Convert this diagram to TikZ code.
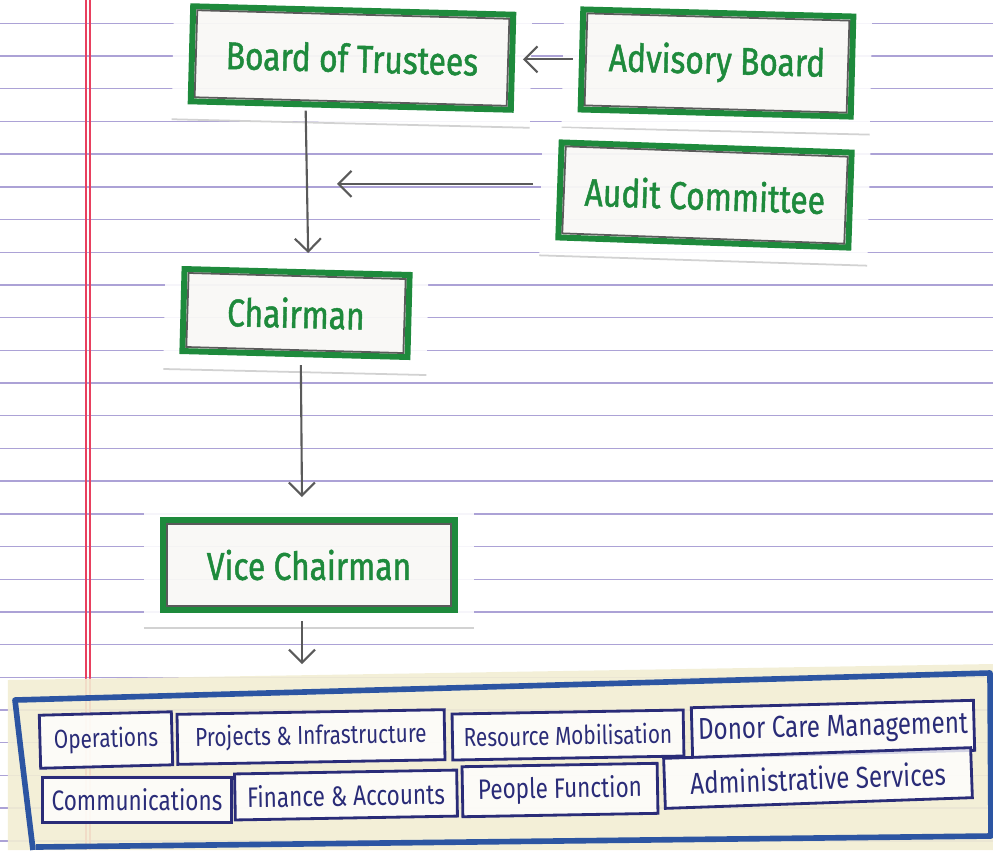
\documentclass[tikz,border=0pt]{standalone}
\usepackage{fontspec}
\newfontfamily\markerfont[FakeStretch=0.82, FakeBold=1.2]{Fira Sans}
\newfontfamily\penfont[FakeStretch=0.8]{Fira Sans}
\usetikzlibrary{arrows.meta, backgrounds}

\definecolor{rule}{HTML}{ACA2D6}
\definecolor{margin}{HTML}{E8405F}
\definecolor{marker}{HTML}{1E8A3C}
\definecolor{pencil}{HTML}{5A5A5A}
\definecolor{ink}{HTML}{2A2C78}
\definecolor{blueink}{HTML}{2C55A2}
\definecolor{cream}{HTML}{F2EED3}
\definecolor{card}{HTML}{F4F2EE}

\begin{document}
\begin{tikzpicture}[x=0.01cm, y=-0.01cm,
	post/.style={draw=marker, line width=1.7pt, fill=card, fill opacity=0.5, text opacity=1, text=marker, inner sep=0pt, font=\markerfont\fontsize{11}{12}\selectfont},
	unit/.style={draw=ink, line width=0.8pt, fill=white, fill opacity=0.8, text opacity=1, text=ink, inner sep=0pt, font=\penfont\fontsize{8}{9}\selectfont},
	small/.style={font=\penfont\fontsize{7.4}{8}\selectfont},
	large/.style={font=\penfont\fontsize{8.6}{9}\selectfont},
	link/.style={draw=pencil, line width=0.6pt, -{Straight Barb[length=1.3mm, width=2.6mm]}}]
	\useasboundingbox (0,0) rectangle (993,850);

	% Green cards:
	\node[post, minimum width=3.2cm, minimum height=0.95cm, rotate=-1.5] (board) at (352,58) {Board of Trustees};
	\node[post, minimum width=2.7cm, minimum height=1.0cm, rotate=-1.5] (advisory) at (717,63) {Advisory Board};
	\node[post, minimum width=2.9cm, minimum height=0.95cm, rotate=-2] (audit) at (705,195) {Audit Committee};
	\node[post, minimum width=2.25cm, minimum height=0.82cm, rotate=-1.5] (chairman) at (296,313) {Chairman};
	\node[post, minimum width=2.92cm, minimum height=0.9cm] (vice) at (309,565) {Vice Chairman};
	\coordinate (panel) at (302,664);

	% Units:
	\node[unit, small, minimum width=1.32cm, minimum height=0.53cm, rotate=1.5] (operations) at (106,740) {Operations};
	\node[unit, small, minimum width=2.67cm, minimum height=0.5cm, rotate=1] (projects) at (311,737) {Projects \& Infrastructure};
	\node[unit, small, minimum width=2.31cm, minimum height=0.46cm, rotate=1] (resource) at (568,735) {Resource Mobilisation};
	\node[unit, large, minimum width=2.82cm, minimum height=0.5cm, rotate=1.5] (donor) at (833,729) {Donor Care Management};
	\node[unit, minimum width=1.89cm, minimum height=0.45cm] (communications) at (137,800) {Communications};
	\node[unit, minimum width=2.22cm, minimum height=0.46cm, rotate=1] (finance) at (346,795) {Finance \& Accounts};
	\node[unit, minimum width=1.95cm, minimum height=0.5cm, rotate=1] (people) at (560,790) {People Function};
	\node[unit, large, minimum width=3.07cm, minimum height=0.5cm, rotate=2] (admin) at (818,778) {Administrative Services};

	% Inner pencil frames
	\foreach \n in {board, advisory, audit, chairman, vice}
		\draw[pencil, line width=0.5pt] ([shift={(7,7)}]\n.north west) -- ([shift={(-7,7)}]\n.north east) -- ([shift={(-7,-7)}]\n.south east) -- ([shift={(7,-7)}]\n.south west) -- cycle;

	% Arrows
	\draw[link] ([shift={(-6,0)}]advisory.west) -- ++(-50,0);
	\draw[link] ([shift={(-45,2)}]board.south) -- ([shift={(11,-16)}]chairman.north);
	\draw[link] ([shift={(-24,-6)}]audit.west) -- ++(-196,0);
	\draw[link] ([shift={(6,8)}]chairman.south) -- ([shift={(-7,-20)}]vice.north);
	\draw[link] ([shift={(-7,8)}]vice.south) -- (panel);

	% Paper, panel and cut-outs
	\begin{scope}[on background layer]
		\fill[white] (0,0) rectangle (993,850);
		\foreach \k in {0,...,25}
			\draw[rule, line width=0.4pt] (0,{23.3+32.7*\k}) -- (993,{23.3+32.7*\k});
		\draw[margin, line width=0.5pt] (86,0) -- (86,850) (90,0) -- (90,850);
		\fill[cream, opacity=0.9] (8,680) -- (993,664) -- (993,850) -- (8,850) -- cycle;
		\draw[blueink, line width=1.6pt, line join=round] (33,850) .. controls (22,760) .. (15,700) -- (990,673) -- (991,836) -- (36,847);
		\foreach \n in {board, advisory, audit, chairman, vice} {
			\fill[white, opacity=0.9] ([shift={(-16,-12)}]\n.north west) -- ([shift={(16,-12)}]\n.north east) -- ([shift={(16,14)}]\n.south east) -- ([shift={(-16,14)}]\n.south west) -- cycle;
			\draw[gray!35, line width=0.5pt] ([shift={(-16,15)}]\n.south west) -- ([shift={(16,15)}]\n.south east);
		}
	\end{scope}
\end{tikzpicture}
\end{document}
